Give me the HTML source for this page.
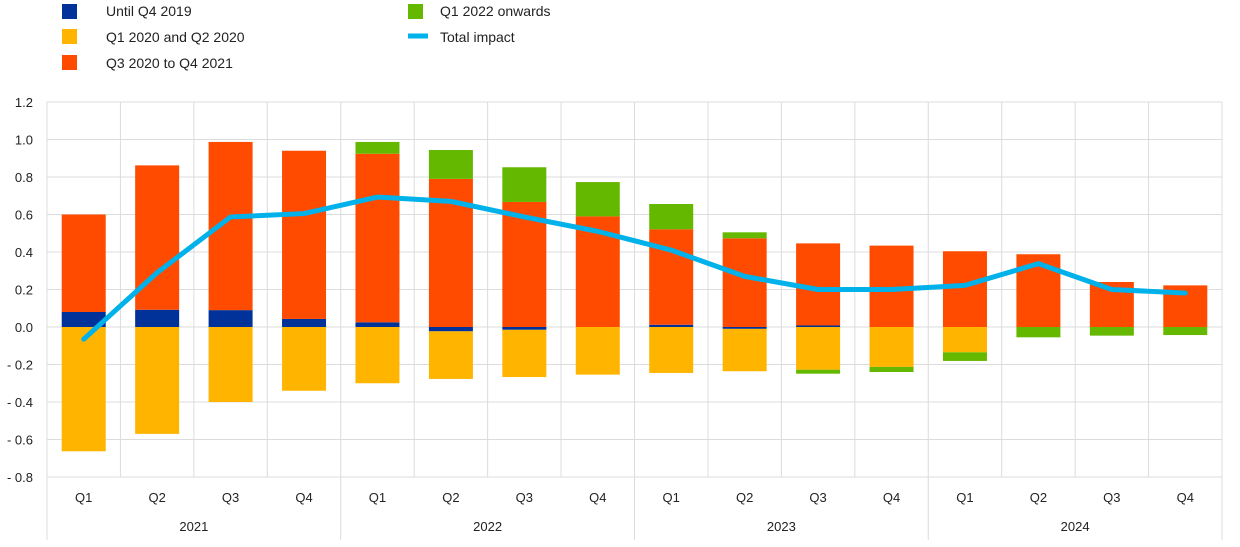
<!DOCTYPE html>
<html><head><meta charset="utf-8"><style>
body{margin:0;background:#fff;font-family:"Liberation Sans",Arial,sans-serif;}
svg text{font-family:"Liberation Sans",Arial,sans-serif;fill:#222;}
</style></head><body>
<svg id="chart" width="1240" height="542" viewBox="0 0 1240 542" xmlns="http://www.w3.org/2000/svg">
<g id="legend">
 <g><rect x="62" y="4" width="15" height="15" fill="#003299"/><text x="106" y="16" font-size="14">Until Q4 2019</text></g>
 <g><rect x="62" y="29" width="15" height="15" fill="#FFB400"/><text x="106" y="42" font-size="14">Q1 2020 and Q2 2020</text></g>
 <g><rect x="62" y="55" width="15" height="15" fill="#FF4B00"/><text x="106" y="68" font-size="14">Q3 2020 to Q4 2021</text></g>
 <g><rect x="408" y="4" width="15" height="15" fill="#65B800"/><text x="440" y="16" font-size="14">Q1 2022 onwards</text></g>
 <g><line x1="408" y1="36" x2="428" y2="36" stroke="#00B1EA" stroke-width="5"/><text x="440" y="42" font-size="14">Total impact</text></g>
</g>
<g id="grid"></g>
<g id="bars"></g>
<g id="line"></g>
<g id="axes"></g>
</svg>
<script>
const quarters=["Q1","Q2","Q3","Q4","Q1","Q2","Q3","Q4","Q1","Q2","Q3","Q4","Q1","Q2","Q3","Q4"];
const years=["2021","2022","2023","2024"];
const untilQ42019=[0.08,0.092,0.09,0.043,0.025,-0.023,-0.015,0,0.012,-0.01,0.008,0,0,0,0,0];
const q1q2of2020=[-0.663,-0.57,-0.40,-0.34,-0.30,-0.254,-0.252,-0.254,-0.245,-0.226,-0.228,-0.213,-0.135,0,0,0];
const q3of2020toq4of2021=[0.52,0.77,0.897,0.897,0.899,0.79,0.667,0.59,0.509,0.473,0.438,0.434,0.404,0.388,0.24,0.222];
const q1of2022onwards=[0,0,0,0,0.063,0.154,0.185,0.183,0.135,0.032,-0.021,-0.027,-0.046,-0.055,-0.046,-0.043];
const totalImpact=[-0.065,0.29,0.587,0.605,0.693,0.67,0.587,0.51,0.41,0.27,0.2,0.2,0.222,0.338,0.2,0.181];
const yTicks=[1.2,1.0,0.8,0.6,0.4,0.2,0.0,-0.2,-0.4,-0.6,-0.8];
const NS="http://www.w3.org/2000/svg";
const L=47,R=1222,T=102,B=477,yMax=1.2,yMin=-0.8;
const colW=(R-L)/quarters.length,barW=44;
function y(v){return T+(yMax-v)/(yMax-yMin)*(B-T);}
function xc(i){return L+colW*(i+0.5);}
function mk(tag,attrs,parent){const e=document.createElementNS(NS,tag);for(const k in attrs)e.setAttribute(k,attrs[k]);parent.appendChild(e);return e;}
const grid=document.getElementById('grid'),axes=document.getElementById('axes'),bars=document.getElementById('bars'),lineG=document.getElementById('line');
yTicks.forEach(t=>{
 const l=mk('line',{x1:L,x2:R,y1:y(t),y2:y(t),stroke:'#dcdcdc','stroke-width':1},grid);
 
 
 const tx=mk('text',{x:33,y:y(t)+5,'font-size':13,'text-anchor':'end'},axes);
 tx.textContent=(t<0?'- ':'')+Math.abs(t).toFixed(1);
 
 
});
for(let i=0;i<=quarters.length;i++){
 const yr=i%4===0;
 const l=mk('line',{x1:L+colW*i,x2:L+colW*i,y1:T,y2:yr?540:B,stroke:'#dcdcdc','stroke-width':1},grid);
 
 
}
quarters.forEach((q,i)=>{
 const t=mk('text',{x:xc(i),y:502,'font-size':13,'text-anchor':'middle'},axes);
 t.textContent=q;
 
 
});
years.forEach((yr,j)=>{
 const t=mk('text',{x:L+colW*(4*j+2),y:531,'font-size':13,'text-anchor':'middle'},axes);
 t.textContent=yr;
 
 
});
const series=[[untilQ42019,'#003299','bar-until-q4-2019'],[q1q2of2020,'#FFB400','bar-q1-q2-2020'],[q3of2020toq4of2021,'#FF4B00','bar-q3-2020-q4-2021'],[q1of2022onwards,'#65B800','bar-q1-2022-onwards']];
quarters.forEach((q,i)=>{
 let pos=0,neg=0;
 series.forEach(([arr,col,name])=>{
  const v=arr[i]; if(!v)return;
  let a,b;
  if(v>0){a=pos;b=pos+v;pos=b;}else{a=neg;b=neg+v;neg=b;}
  const r=mk('rect',{x:xc(i)-barW/2,y:y(Math.max(a,b)),width:barW,height:Math.abs(y(a)-y(b)),fill:col},bars);
  
  
 });
});
const p=mk('polyline',{points:totalImpact.map((v,i)=>xc(i)+','+y(v)).join(' '),fill:'none',stroke:'#00B1EA','stroke-width':5,'stroke-linejoin':'round','stroke-linecap':'round'},lineG);


</script>
</body></html>
